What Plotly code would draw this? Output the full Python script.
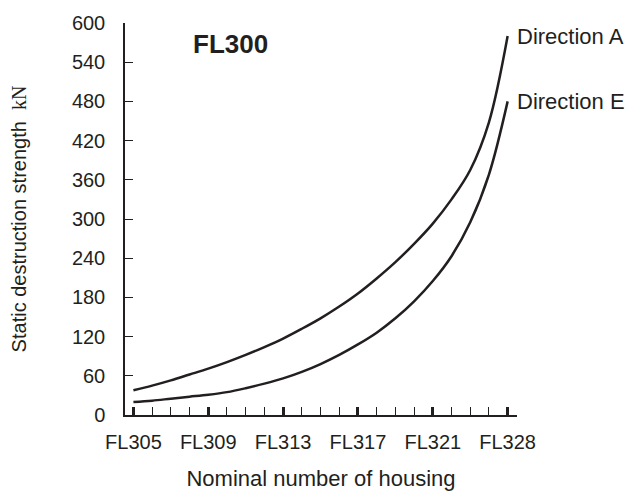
import plotly.graph_objects as go

housing = ["FL305", "FL306", "FL307", "FL308", "FL309", "FL310", "FL311", "FL312",
           "FL313", "FL314", "FL315", "FL316", "FL317", "FL318", "FL319", "FL320",
           "FL321", "FL322", "FL324", "FL326", "FL328"]
direction_a = [38, 45, 53, 62, 71, 81, 92, 104, 117, 132, 148, 166, 186, 209, 234,
               262, 293, 330, 375, 448, 580]
direction_e = [20, 22, 25, 28, 31, 35, 41, 48, 56, 66, 78, 92, 108, 126, 148,
               174, 205, 243, 295, 368, 480]
labelled = ["FL305", "FL309", "FL313", "FL317", "FL321", "FL328"]
y_ticks = list(range(0, 601, 60))

idx = list(range(len(housing)))
lab_idx = [housing.index(h) for h in labelled]

ink = "#231f20"
font = "Liberation Sans, Arial, sans-serif"

fig = go.Figure()
for name, vals in [("Direction A", direction_a), ("Direction E", direction_e)]:
    fig.add_trace(go.Scatter(x=idx, y=vals, mode="lines", name=name,
                             line=dict(color=ink, width=2.5, shape="spline", smoothing=1.0),
                             showlegend=False, hoverinfo="skip"))
    fig.add_annotation(x=idx[-1], y=vals[-1], text=name, xref="x", yref="y",
                       xanchor="left", yanchor="middle", showarrow=False,
                       xshift=7, yshift=0,
                       font=dict(family=font, size=22, color=ink))

fig.add_annotation(x=0.268, y=0.946, xref="paper", yref="paper", text="<b>FL300</b>",
                   showarrow=False, xanchor="center", yanchor="middle",
                   font=dict(family=font, size=26, color=ink))

fig.update_layout(
    width=632, height=492,
    margin=dict(l=125, r=115, t=23, b=77),
    paper_bgcolor="white", plot_bgcolor="white",
    font=dict(family=font, size=20, color=ink),
    xaxis=dict(
        range=[-0.45, 20.5], tickmode="array", tickvals=lab_idx, ticktext=labelled,
        ticks="inside", ticklen=8, tickwidth=2.5, tickcolor=ink,
        showline=True, linecolor=ink, linewidth=1.5,
        showgrid=False, zeroline=False, automargin=False,
        ticklabelstandoff=8,
        tickfont=dict(family=font, size=20, color=ink),
        minor=dict(dtick=1, tick0=0, ticks="inside", ticklen=8, tickwidth=1.2, tickcolor=ink, showgrid=False),
        title=dict(text="Nominal number of housing", standoff=19,
                   font=dict(family=font, size=22, color=ink)),
    ),
    yaxis=dict(
        range=[0, 600], tickmode="array", tickvals=y_ticks,
        ticks="inside", ticklen=8, tickwidth=1.2, tickcolor=ink,
        showline=True, linecolor=ink, linewidth=1.5,
        showgrid=False, zeroline=False, automargin=False,
        ticklabelstandoff=14,
        tickfont=dict(family=font, size=20, color=ink),
        title=dict(text="Static destruction strength  <span style=\"font-family:Liberation Serif, Times New Roman, serif\">kN</span>",
                   standoff=40, font=dict(family=font, size=20, color=ink)),
    ),
)

fig.write_html("out.html", config={"displayModeBar": False},
               post_script="document.body.style.margin='0';document.body.style.overflow='hidden';")
